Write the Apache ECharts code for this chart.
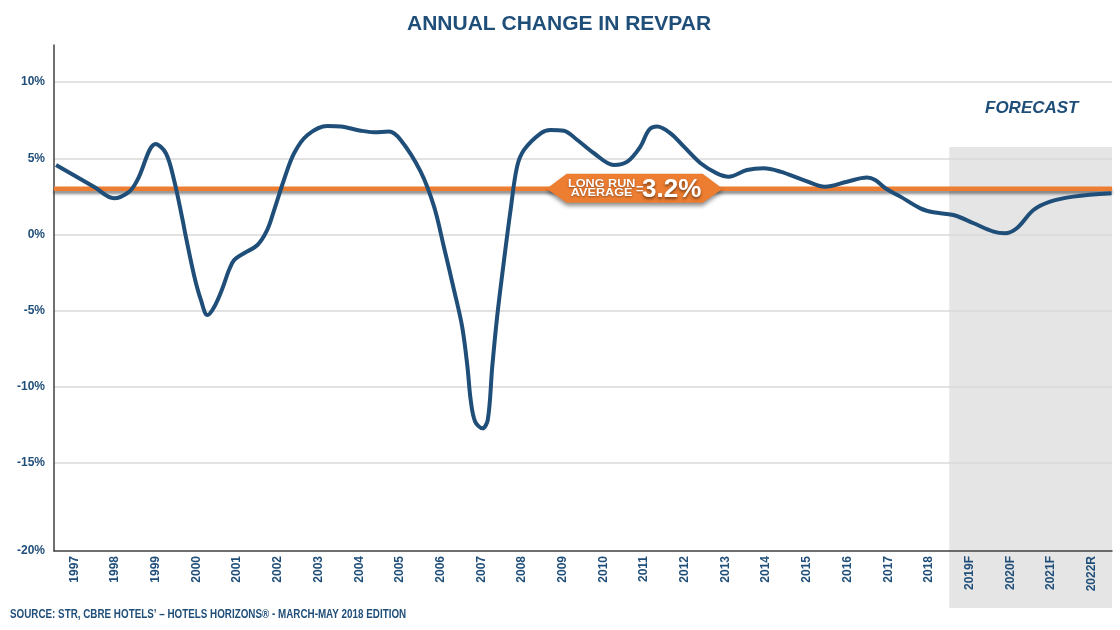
<!DOCTYPE html>
<html><head><meta charset="utf-8">
<script src="https://cdn.jsdelivr.net/npm/echarts@6/dist/echarts.min.js"></script>
<style>html,body{margin:0;padding:0;background:#fff}#c{width:1120px;height:630px}</style>
</head><body><div id="c"></div>
<script>
// ---- data ----
const tickLabels = ['1997','1998','1999','2000','2001','2002','2003','2004','2005','2006','2007','2008','2009','2010','2011','2012','2013','2014','2015','2016','2017','2018','2019F','2020F','2021F','2022R'];
const firstYear = 1997;
const yTickValues = [-15, -10, -5, 0, 5, 10];
const yAxisBottom = -20.8;
const yAxisTop = 12.44;
// position on the time axis (year, centre of label = whole year)
const timePos = [1996.55,1997.5,1997.97,1998.35,1998.55,1999.0,1999.25,1999.45,1999.66,1999.74,1999.95,2000.11,2000.27,2000.44,2000.64,2000.8,2000.93,2001.17,2001.5,2001.74,2001.91,2002.15,2002.4,2002.73,2003.22,2003.55,2004.04,2004.36,2004.73,2005.02,2005.51,2005.84,2006.08,2006.33,2006.53,2006.66,2006.74,2006.85,2007.03,2007.16,2007.27,2007.39,2007.56,2007.72,2007.88,2008.05,2008.46,2008.7,2009.03,2009.36,2009.77,2010.26,2010.59,2010.91,2011.12,2011.32,2011.65,2011.98,2012.39,2012.79,2013.08,2013.53,2013.94,2014.35,2014.92,2015.45,2015.99,2016.48,2016.68,2016.93,2017.3,2017.79,2018.11,2018.6,2019.1,2019.59,2019.87,2020.16,2020.57,2020.98,2021.55,2022.49];
const revparChange = [4.56,3.09,2.37,2.81,3.57,5.94,5.33,3.57,0.95,-0.15,-2.78,-4.31,-5.30,-4.75,-3.54,-2.34,-1.68,-1.24,-0.70,0.29,1.60,3.57,5.33,6.53,7.12,7.08,6.81,6.71,6.75,6.20,4.12,1.82,-0.81,-3.65,-6.06,-8.69,-10.88,-12.3,-12.74,-12.19,-8.69,-5.41,-1.68,1.60,4.45,5.55,6.64,6.86,6.81,6.20,5.33,4.56,4.78,5.76,6.86,7.08,6.64,5.76,4.67,4.01,3.79,4.23,4.34,4.12,3.57,3.13,3.46,3.73,3.57,3.03,2.48,1.71,1.45,1.27,0.73,0.18,0.07,0.40,1.60,2.15,2.48,2.70];
const longRunAverageDrawn = 3.0;
const longRunAverageText = '3.2%';
const forecastStart = 2018.5;
const forecastTop = 5.74;

const BLUE = '#1f4e79';
const ORANGE = '#ed7d31';
const FONT = '"Liberation Sans", Arial, sans-serif';
const xMin = firstYear - 0.5, xMax = firstYear + tickLabels.length - 0.5;

const chart = echarts.init(document.getElementById('c'), null, {renderer: 'canvas'});
chart.setOption({
  animation: false,
  backgroundColor: '#fff',
  title: {
    text: 'ANNUAL CHANGE IN REVPAR', left: 402, top: 9,
    textStyle: {color: BLUE, fontSize: 21, fontWeight: 'bold', fontFamily: FONT}
  },
  grid: {left: 54, right: 8, top: 45, bottom: 79},
  xAxis: {
    type: 'value', min: xMin, max: xMax,
    axisLine: {show: true, onZero: false, lineStyle: {color: '#404040', width: 1.5}},
    axisTick: {show: false},
    splitLine: {show: false},
    axisLabel: {
      customValues: tickLabels.map((_, i) => firstYear + i),
      formatter: v => tickLabels[Math.round(v) - firstYear],
      rotate: 90, margin: 5,
      color: BLUE, fontWeight: 'bold', fontSize: 12, fontFamily: FONT
    }
  },
  yAxis: {
    type: 'value', min: yAxisBottom, max: yAxisTop,
    axisLine: {show: true, lineStyle: {color: '#404040', width: 1.5}},
    axisTick: {show: false, customValues: yTickValues},
    splitLine: {show: true, lineStyle: {color: '#d9d9d9', width: 1.5}},
    axisLabel: {
      customValues: [yAxisBottom].concat(yTickValues),
      formatter: v => (v < -20 ? -20 : v) + '%',
      margin: 9, color: BLUE, fontWeight: 'bold', fontSize: 12, fontFamily: FONT
    }
  },
  series: [
    {
      name: 'Long run average', type: 'line', symbol: 'none', silent: true, z: 2,
      data: [[xMin, longRunAverageDrawn], [xMax, longRunAverageDrawn]],
      lineStyle: {color: ORANGE, width: 4.5, shadowColor: 'rgba(0,0,0,0.45)', shadowBlur: 3, shadowOffsetY: 3}
    },
    {
      name: 'Annual change in RevPAR', type: 'line', symbol: 'none', smooth: 0.35, z: 3,
      data: timePos.map((t, i) => [t, revparChange[i]]),
      lineStyle: {color: BLUE, width: 4}
    }
  ]
});

// decorations anchored on the axes
const p0 = chart.convertToPixel({gridIndex: 0}, [forecastStart, forecastTop]);
const p1 = chart.convertToPixel({gridIndex: 0}, [xMax, yAxisBottom]);
const pb = chart.convertToPixel({gridIndex: 0}, [2010.77, longRunAverageDrawn]);
const bx = pb[0], by = pb[1];
const txtShadow = {textShadowColor: 'rgba(0,0,0,0.4)', textShadowBlur: 2, textShadowOffsetY: 1};
chart.setOption({
  graphic: [
    {type: 'rect', z: -1, silent: true,
     shape: {x: p0[0], y: p0[1], width: p1[0] - p0[0], height: 608 - p0[1]},
     style: {fill: 'rgba(0,0,0,0.1)'}},
    {type: 'text', left: 985, top: 100, z: 10,
     style: {text: 'FORECAST', fill: BLUE, font: 'italic bold 17px ' + FONT}},
    {type: 'text', x: 10, y: 614.5, scaleX: 0.82, z: 10,
     style: {text: 'SOURCE: STR, CBRE HOTELS\u2019 \u2013 HOTELS HORIZONS\u00ae - MARCH-MAY 2018 EDITION',
             fill: BLUE, font: 'bold 12px ' + FONT, verticalAlign: 'middle'}},
    {type: 'group', x: bx, y: by, z: 20, children: [
      {type: 'polygon', z: 20,
       shape: {points: [[-88, 0], [-68, -15], [68, -15], [88, 0], [68, 14], [-68, 14]]},
       style: {fill: ORANGE, shadowColor: 'rgba(0,0,0,0.45)', shadowBlur: 4, shadowOffsetY: 3}},
      {type: 'text', z: 21, x: -33, y: -5, scaleX: 1.1,
       style: Object.assign({text: 'LONG RUN', fill: '#fff', font: 'bold 11.5px ' + FONT, align: 'center', verticalAlign: 'middle'}, txtShadow)},
      {type: 'text', z: 21, x: -33, y: 4.5, scaleX: 1.1,
       style: Object.assign({text: 'AVERAGE', fill: '#fff', font: 'bold 11.5px ' + FONT, align: 'center', verticalAlign: 'middle'}, txtShadow)},
      {type: 'text', z: 21, x: 5, y: 1,
       style: Object.assign({text: '=', fill: '#fff', font: 'bold 13px ' + FONT, align: 'center', verticalAlign: 'middle'}, txtShadow)},
      {type: 'text', z: 21, x: 37, y: 1,
       style: {text: longRunAverageText, fill: '#fff', font: 'bold 26px ' + FONT, align: 'center', verticalAlign: 'middle',
               textShadowColor: 'rgba(0,0,0,0.5)', textShadowBlur: 3, textShadowOffsetY: 2}}
    ]}
  ]
});
</script></body></html>
